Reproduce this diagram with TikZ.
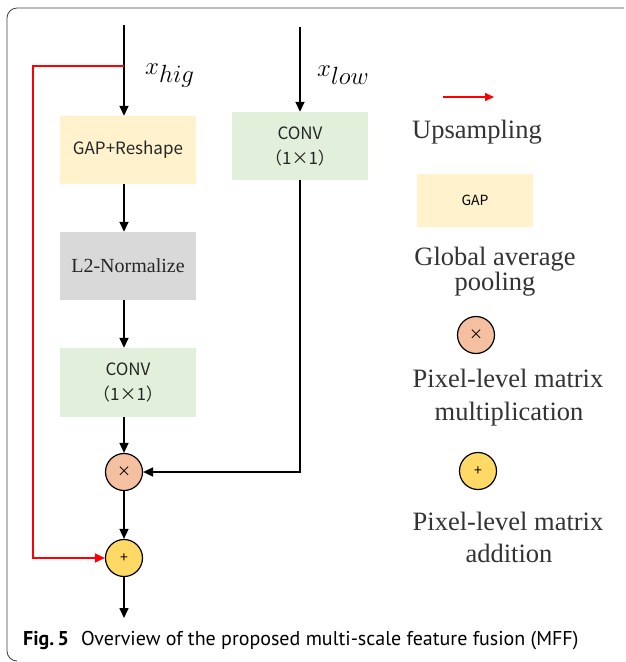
\documentclass[tikz,border=0pt]{standalone}
\usepackage{fontspec}
\setmainfont{Liberation Serif}
\newfontfamily\cjkf{Noto Sans CJK SC}
\newfontfamily\capf{PT Sans}
\usetikzlibrary{arrows.meta}
\definecolor{gapyel}{HTML}{FFF2CC}
\definecolor{normgray}{HTML}{D9D9D9}
\definecolor{convgreen}{HTML}{E2EFDA}
\definecolor{mulpeach}{HTML}{F4C09F}
\definecolor{addgold}{HTML}{FFD966}
\tikzset{
  flow/.style={line width=1.6pt, -{Triangle[length=10pt,width=9pt]}},
  upflow/.style={line width=1.6pt, red, -{Triangle[length=10pt,width=9pt]}},
  blk/.style={draw=none, minimum width=136pt, minimum height=68pt, inner sep=0pt, align=center},
  boxtxt/.style={font=\cjkf\fontsize{17}{25}\selectfont, text=black!85},
  serif/.style={font=\fontsize{20}{24}\selectfont, text=black!85},
  legtxt/.style={font=\fontsize{26.5}{30}\selectfont, anchor=base, text=black!80},
  opcirc/.style={circle, draw=black, line width=1.2pt, minimum size=37pt, inner sep=0pt, font=\cjkf\fontsize{14}{14}\selectfont},
  mathlbl/.style={font=\fontsize{33}{34}\selectfont, anchor=base west, inner sep=0pt}
}
\begin{document}
\begin{tikzpicture}[x=1pt,y=-1pt]
\useasboundingbox (0,0) rectangle (626,662);
% frame
\draw[line width=0.8pt, draw=black!75, rounded corners=10pt] (624,8) -- (7,8) -- (7,661) -- (16,661);
% left column
\coordinate (hin) at (124,25);
\coordinate (hsplit) at (124,66);
\node[blk, boxtxt, fill=gapyel, minimum height=68pt] (gap) at (128,150) {GAP+Reshape};
\node[blk, serif, fill=normgray] (norm) at (128,266) {L2-Normalize};
\node[blk, boxtxt, fill=convgreen, minimum height=69pt] (conv1) at (128,382.5) {CONV\\（1×1）};
\node[opcirc, fill=mulpeach] (mul) at (124,472) {×};
\node[opcirc, fill=addgold] (add) at (124,558) {+};
\coordinate (hout) at (124,618);
% right column
\coordinate (lin) at (300,27);
\node[blk, boxtxt, fill=convgreen, minimum height=68pt] (conv2) at (300,146) {CONV\\（1×1）};
% labels
\node[mathlbl] (xh) at (145,74) {$x_{hig}$};
\node[mathlbl] (xl) at (317,76) {$x_{low}$};
% connectors
\draw[flow] (hin) -- (hin |- gap.north);
\draw[flow] (hin |- gap.south) -- (hin |- norm.north);
\draw[flow] (hin |- norm.south) -- (hin |- conv1.north);
\draw[flow] (hin |- conv1.south) -- (mul.north);
\draw[flow] (mul.south) -- (add.north);
\draw[flow] (add.south) -- (hout);
\draw[flow] (lin) -- (lin |- conv2.north);
\draw[flow] (lin |- conv2.south) |- (mul.east);
\draw[upflow] (hsplit) -| (33,558) -- (add.west);
% legend
\coordinate (ua) at (443,97);
\coordinate (ub) at (494,97);
\draw[upflow, -{Triangle[length=9pt,width=8pt]}] (ua) -- (ub);
\node[legtxt] (lup) at (477,138) {Upsampling};
\node[blk, fill=gapyel, minimum width=116pt, minimum height=53pt, font=\cjkf\fontsize{14}{14}\selectfont] (lgap) at (475,200.5) {GAP};
\node[legtxt] (lg1) at (495,265) {Global average};
\node[legtxt] (lg2) at (495,290) {pooling};
\node[opcirc, fill=mulpeach] (lmul) at (476,335) {×};
\node[legtxt] (lm1) at (508,387) {Pixel-level matrix};
\node[legtxt] (lm2) at (509,420) {multiplication};
\node[opcirc, fill=addgold] (ladd) at (478,471) {+};
\node[legtxt] (la1) at (508,530) {Pixel-level matrix};
\node[legtxt] (la2) at (509,562) {addition};
% caption
\node[anchor=base west, inner sep=0pt, font=\capf\fontsize{20}{24}\selectfont] (cap) at (23,645) {\textbf{Fig.\,5}\hspace{0.6em}Overview of the proposed multi-scale feature fusion (MFF)};
\end{tikzpicture}
\end{document}
